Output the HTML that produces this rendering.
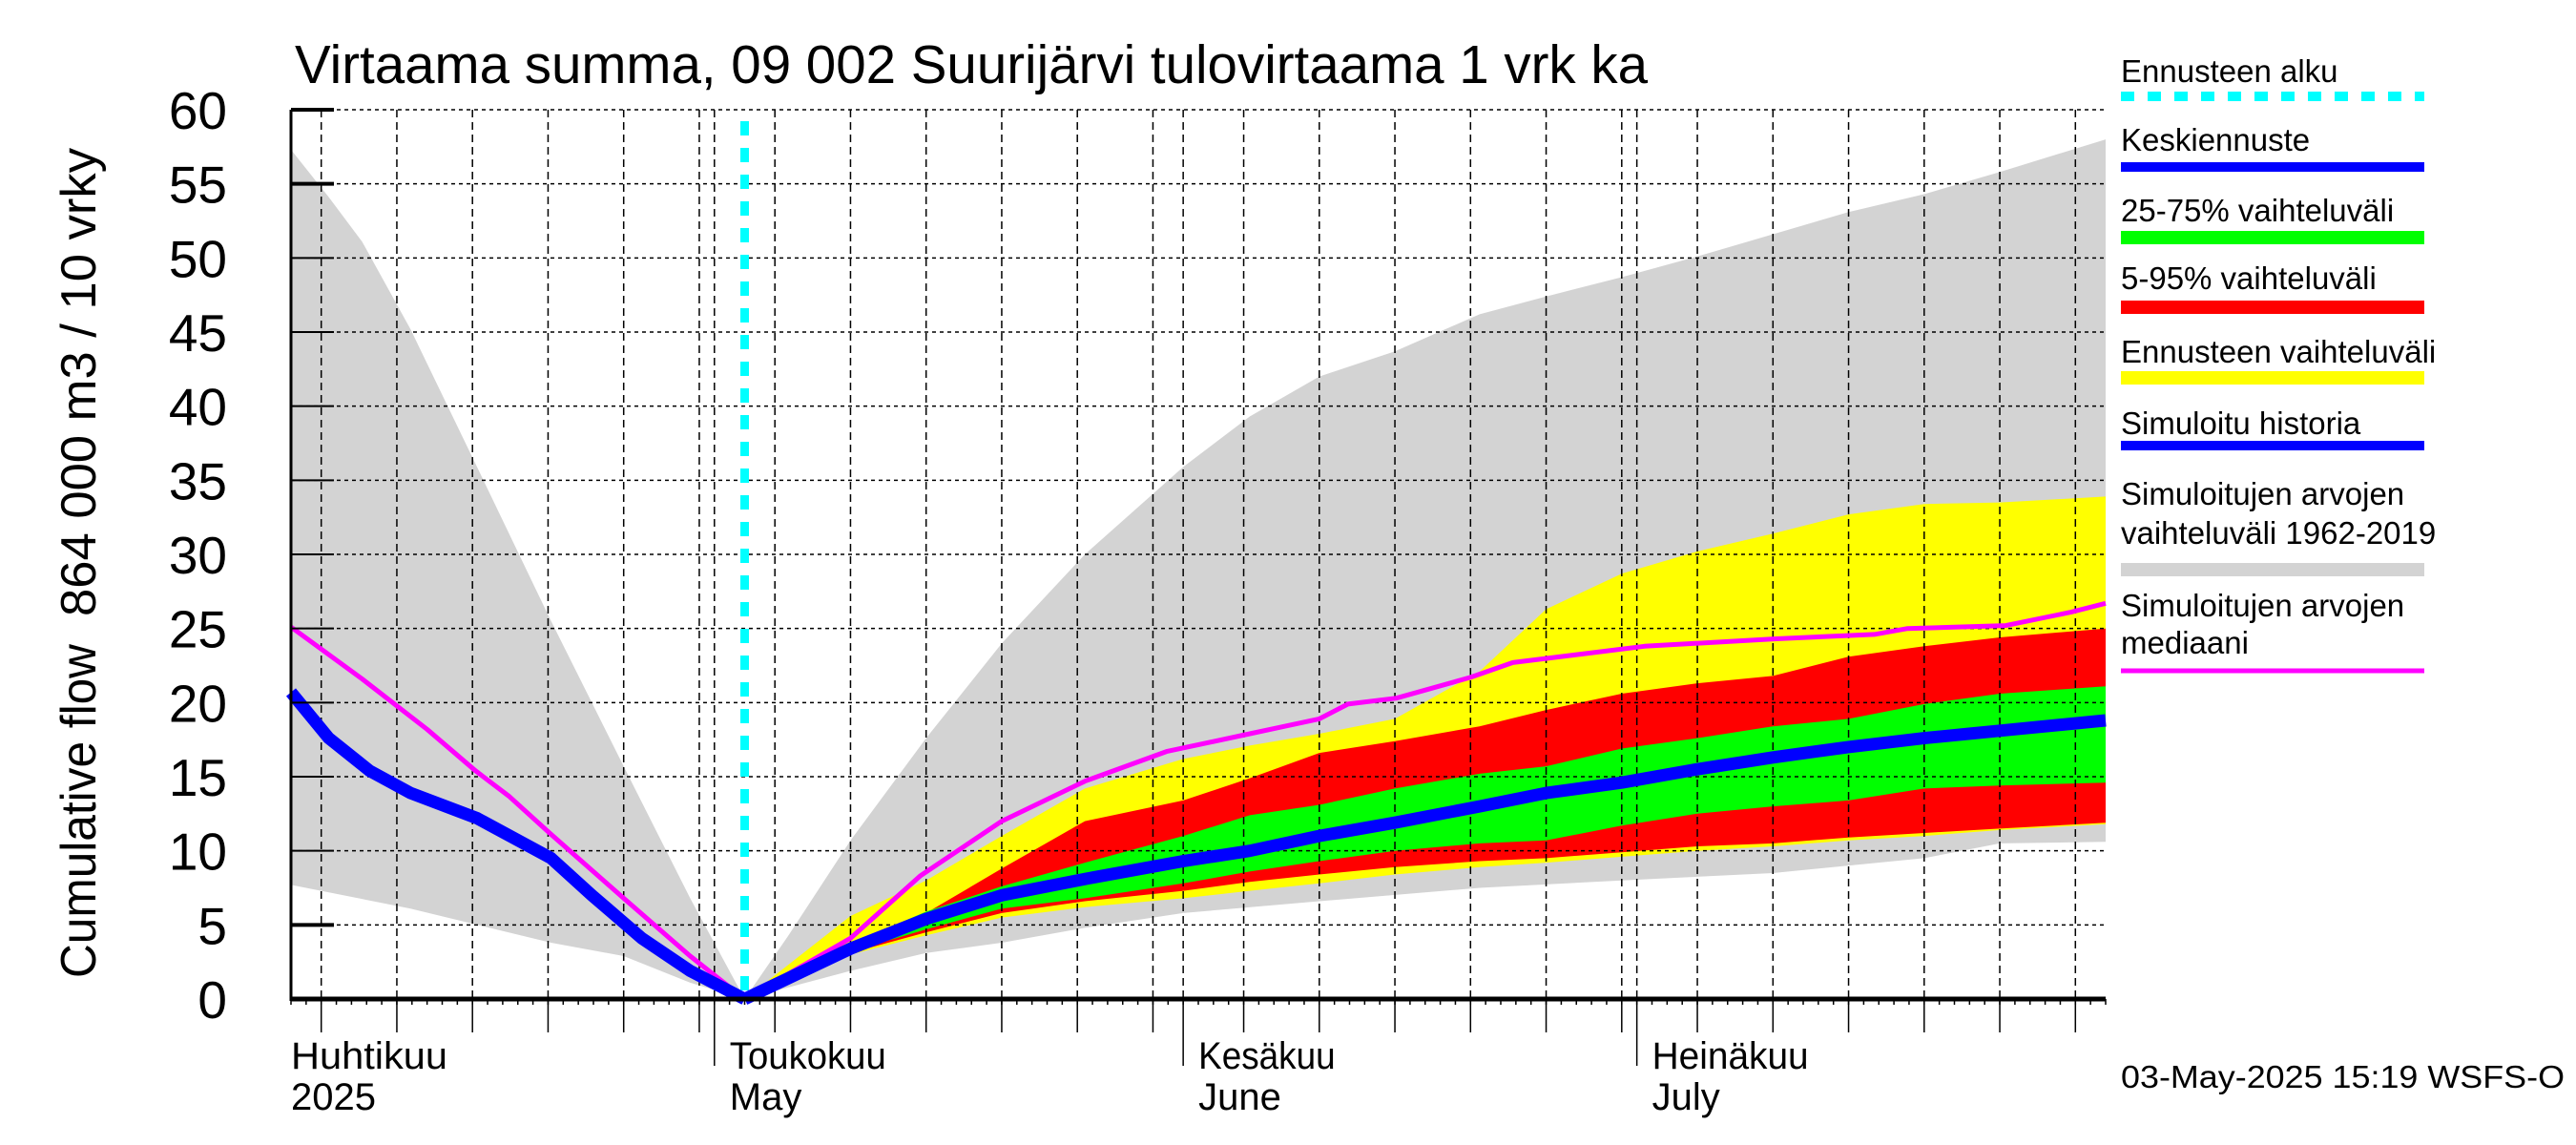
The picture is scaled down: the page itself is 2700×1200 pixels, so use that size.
<!DOCTYPE html>
<html><head><meta charset="utf-8"><style>
html,body{margin:0;padding:0;background:#fff;}
svg{display:block;font-family:"Liberation Sans",sans-serif;}
</style></head><body>
<svg id="chart" width="2700" height="1200" viewBox="0 0 2700 1200" xmlns="http://www.w3.org/2000/svg">
<text x="309" y="87" font-size="57" textLength="1418" lengthAdjust="spacingAndGlyphs">Virtaama summa, 09 002 Suurijärvi tulovirtaama 1 vrk ka</text>
<text transform="translate(100,1025) rotate(-90)" font-size="52" textLength="350" lengthAdjust="spacingAndGlyphs">Cumulative flow</text>
<text transform="translate(100,646) rotate(-90)" font-size="52" textLength="491" lengthAdjust="spacingAndGlyphs">864 000 m3 / 10 vrky</text>
<g id="fills"></g><g id="grid"></g><g id="lines"></g><g id="axes"></g><g id="legend"></g>
<text x="2223" y="1140" font-size="33" textLength="465" lengthAdjust="spacingAndGlyphs">03-May-2025 15:19 WSFS-O</text>
</svg>
<script>
// days since Apr 3 2025 (0 = Apr 3, 28 = May 1, 59 = Jun 1, 89 = Jul 1, 120 = Aug 1)
const histDays = [0, 2.5, 5.2, 7.9, 12.3, 17.2, 19.9, 23.2, 26.4, 30];
const histVals = [20.7, 17.6, 15.4, 13.9, 12.2, 9.5, 7.0, 4.1, 1.9, 0];
const medLeftDays = [0, 4.7, 9, 12.2, 14.4, 17.1, 22, 26.4, 30];
const medLeftVals = [25.1, 21.6, 18.2, 15.4, 13.7, 11.2, 6.8, 2.9, 0];
const medRightDays = [30, 37, 41.6, 47, 52.5, 57.9, 63.4, 68, 69.9, 73.1, 78, 80.8, 89.5, 98.2, 104.7, 106.9, 113.4, 117.7, 120];
const medRightVals = [0, 4.1, 8.3, 12.0, 14.7, 16.7, 17.9, 18.9, 19.9, 20.3, 21.7, 22.7, 23.8, 24.3, 24.6, 25.0, 25.2, 26.1, 26.7];
const grayLeftDays = [0, 2.5, 4.7, 7.9, 12.3, 17.2, 22, 26.4, 30];
const grayLeftUpper = [57.3, 54.1, 51.1, 45.2, 35.9, 25.5, 15.7, 6.8, 0];
const grayLeftLowerDays = [0, 7.9, 17.2, 22, 26.4, 30];
const grayLeftLower = [7.7, 6.1, 3.8, 2.9, 1.1, 0];
const grayUpperDays = [30, 32.9, 37, 42, 47, 52.5, 59, 63.4, 68, 73, 78.6, 83, 88, 93, 98, 103, 108, 113, 120];
const grayUpper = [0, 4.3, 10.7, 17.6, 24.0, 30.0, 35.9, 39.3, 42.0, 43.7, 46.2, 47.4, 48.7, 50.1, 51.6, 53.1, 54.3, 55.8, 58.0];
const grayLowerDays = [30, 37, 42, 47, 52.5, 59, 68, 78.6, 88, 98, 108, 113, 120];
const grayLower = [0, 1.9, 3.1, 3.8, 4.8, 5.8, 6.6, 7.5, 8.0, 8.5, 9.5, 10.5, 10.6];
const fcDays = [30, 37, 42, 47, 52.5, 59, 63.4, 68, 73, 78.6, 83, 88, 93, 98, 103, 108, 113, 120];
const yellowUpper = [0, 5.6, 8.0, 11.0, 14.2, 16.2, 17.1, 17.9, 18.9, 22.1, 26.3, 28.7, 30.2, 31.4, 32.7, 33.4, 33.5, 33.9];
const yellowLower = [0, 3.0, 4.3, 5.5, 6.2, 6.8, 7.3, 7.8, 8.4, 8.9, 9.2, 9.6, 10.0, 10.3, 10.7, 11.0, 11.4, 11.8];
const redUpper = [0, 3.6, 5.8, 8.8, 12.0, 13.4, 14.9, 16.6, 17.4, 18.4, 19.5, 20.6, 21.3, 21.8, 23.1, 23.8, 24.4, 25.0];
const redLower = [0, 3.1, 4.5, 5.8, 6.6, 7.3, 7.9, 8.4, 8.9, 9.3, 9.5, 9.9, 10.3, 10.5, 10.9, 11.2, 11.5, 11.9];
const greenUpper = [0, 3.7, 5.9, 7.6, 9.2, 11.0, 12.4, 13.1, 14.2, 15.2, 15.7, 16.9, 17.6, 18.4, 18.9, 19.9, 20.6, 21.1];
const greenLower = [0, 3.2, 4.7, 6.1, 6.8, 7.8, 8.6, 9.3, 10.0, 10.5, 10.7, 11.7, 12.5, 13.0, 13.4, 14.2, 14.4, 14.6];
const medianFc = [0, 3.4, 5.4, 7.0, 8.1, 9.3, 10.0, 11.0, 11.9, 13.0, 13.9, 14.6, 15.5, 16.3, 17.0, 17.6, 18.1, 18.8];
const yTicks = [0, 5, 10, 15, 20, 25, 30, 35, 40, 45, 50, 55, 60];
const monthStarts = [28, 59, 89];
const monthLabels = ["Huhtikuu", "Toukokuu", "Kesäkuu", "Heinäkuu"];
const monthLabels2 = ["2025", "May", "June", "July"];
const forecastDay = 30;

const NS = "http://www.w3.org/2000/svg";
const X0 = 305, X1 = 2207, Y0 = 1047, Y1 = 115, DMAX = 120, VMAX = 60;
function xs(d){ return X0 + d * (X1 - X0) / DMAX; }
function ys(v){ return Y0 - v * (Y0 - Y1) / VMAX; }
function mk(tag, attrs, parent){ const e = document.createElementNS(NS, tag); for (const k in attrs) e.setAttribute(k, attrs[k]); parent.appendChild(e); return e; }
function pts(ds, vs){ return ds.map((d,i)=>xs(d).toFixed(1)+","+ys(vs[i]).toFixed(1)); }
function band(ds, up, dsl, lo, color, name){
  const p = pts(ds, up).concat(pts(dsl, lo).reverse());
  const e = mk("polygon", {points: p.join(" "), fill: color}, document.getElementById("fills"));
  
  
}
band(grayLeftDays, grayLeftUpper, grayLeftLowerDays, grayLeftLower, "#d3d3d3", "historical-range-band-left");
band(grayUpperDays, grayUpper, grayLowerDays, grayLower, "#d3d3d3", "historical-range-band-right");
band(fcDays, yellowUpper, fcDays, yellowLower, "#ffff00", "forecast-range-band");
band(fcDays, redUpper, fcDays, redLower, "#ff0000", "band-5-95");
band(fcDays, greenUpper, fcDays, greenLower, "#00ff00", "band-25-75");

const grid = document.getElementById("grid");
yTicks.forEach(v=>{
  if (v === 0) return;
  const l = mk("line", {x1:X0, x2:X1, y1:ys(v), y2:ys(v), stroke:"#000", "stroke-width":1.5, "stroke-dasharray":"4,4"}, grid);
  
  
});
const gridDays = [];
for (let d = 0; d <= DMAX; d++){
  let dom;
  if (d < 28) dom = d + 3; else if (d < 59) dom = d - 27; else if (d < 89) dom = d - 58; else dom = d - 88;
  const isMonth = monthStarts.includes(d);
  const isGrid = (dom % 5 === 0) || isMonth;
  if (isGrid) gridDays.push([d, isMonth]);
}
gridDays.forEach(([d])=>{
  const l = mk("line", {x1:xs(d), x2:xs(d), y1:Y1, y2:Y0, stroke:"#000", "stroke-width":1.5, "stroke-dasharray":"8,5"}, grid);
  
  
});

const lines = document.getElementById("lines");
const fc = mk("line", {x1:xs(forecastDay), x2:xs(forecastDay), y1:127, y2:Y0, stroke:"#00ffff", "stroke-width":9, "stroke-dasharray":"15,13"}, lines);


function pl(ds, vs, color, w, name){
  const e = mk("polyline", {points: pts(ds, vs).join(" "), fill:"none", stroke:color, "stroke-width":w, "stroke-linejoin":"round"}, lines);
  
  
}
pl(medLeftDays, medLeftVals, "#ff00ff", 5, "median-line-history");
pl(medRightDays, medRightVals, "#ff00ff", 5, "median-line-forecast");
pl(histDays, histVals, "#0000ff", 13, "simulated-history-line");
pl(fcDays, medianFc, "#0000ff", 13, "mean-forecast-line");

const axes = document.getElementById("axes");
mk("line", {x1:X0, x2:X0, y1:Y1, y2:Y0+2, stroke:"#000", "stroke-width":3}, axes);
const xa = mk("line", {x1:X0, x2:X1, y1:Y0, y2:Y0, stroke:"#000", "stroke-width":5}, axes);


yTicks.forEach(v=>{
  const thick = (v === 60 || v === 55 || v === 5);
  mk("line", {x1:X0, x2:350, y1:ys(v), y2:ys(v), stroke:"#000", "stroke-width": thick ? 4 : 2}, axes);
  const t = mk("text", {x:238, y:ys(v)+20, "font-size":55, "text-anchor":"end"}, axes);
  
  
  t.textContent = String(v);
});
for (let d = 0; d <= DMAX; d++){
  mk("line", {x1:xs(d), x2:xs(d), y1:Y0, y2:1053, stroke:"#000", "stroke-width":1.5}, axes);
}
gridDays.forEach(([d, isMonth])=>{
  mk("line", {x1:xs(d), x2:xs(d), y1:Y0, y2: isMonth ? 1117 : 1082, stroke:"#000", "stroke-width":1.5}, axes);
});
const labelDays = [0].concat(monthStarts);
labelDays.forEach((d,i)=>{
  const x = i === 0 ? 305 : xs(d) + 16;
  const t1 = mk("text", {x:x, y:1120, "font-size":40, textLength: monthLabels[i].length*20.5, lengthAdjust:"spacingAndGlyphs"}, axes);
  
  
  t1.textContent = monthLabels[i];
  const t2 = mk("text", {x:x, y:1163, "font-size":40}, axes);
  
  
  t2.textContent = monthLabels2[i];
});

const lg = document.getElementById("legend");
const legendItems = [
  {t:["Ennusteen alku"], by:[86], ly:101, c:"#00ffff", h:10, dash:true},
  {t:["Keskiennuste"], by:[158], ly:175, c:"#0000ff", h:10},
  {t:["25-75% vaihteluväli"], by:[232], ly:249, c:"#00ff00", h:14},
  {t:["5-95% vaihteluväli"], by:[303], ly:322, c:"#ff0000", h:14},
  {t:["Ennusteen vaihteluväli"], by:[380], ly:396, c:"#ffff00", h:14},
  {t:["Simuloitu historia"], by:[455], ly:467, c:"#0000ff", h:10},
  {t:["Simuloitujen arvojen","vaihteluväli 1962-2019"], by:[529,570], ly:597, c:"#d3d3d3", h:14},
  {t:["Simuloitujen arvojen","mediaani"], by:[646,685], ly:703, c:"#ff00ff", h:5}
];
legendItems.forEach(it=>{
  it.t.forEach((s,j)=>{
    const t = mk("text", {x:2223, y:it.by[j], "font-size":33}, lg);
    
    
    t.textContent = s;
  });
  const a = {x1:2223, x2:2541, y1:it.ly, y2:it.ly, stroke:it.c, "stroke-width":it.h};
  if (it.dash) a["stroke-dasharray"] = "14,14";
  const l = mk("line", a, lg);
  
  
});
</script>
</body></html>
